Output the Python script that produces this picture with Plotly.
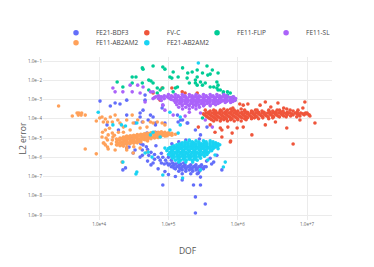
import plotly.graph_objects as go

series_names = ["FE21-BDF3", "FV-C", "FE11-FLIP", "FE11-SL", "FE11-AB2AM2", "FE21-AB2AM2"]
series_colors = ["#636efa", "#EF553B", "#00cc96", "#ab63fa", "#FFA15A", "#19d3f3"]
x_title = "DOF"
y_title = "L2 error"

# (DOF, L2 error) pairs
fe21_bdf3_points = [
    (7.1e4, 1.0e-6), (8.3e4, 1.0e-6), (1.0e5, 1.0e-6),
    (7.6e4, 7.1e-7), (9.1e4, 7.1e-7), (1.1e5, 7.1e-7),
    (7.9e4, 5.0e-7), (9.5e4, 5.0e-7), (1.15e5, 5.0e-7), (1.38e5, 5.0e-7), (1.66e5, 5.0e-7),
    (1.0e5, 4.0e-7), (1.2e5, 4.0e-7), (1.45e5, 4.0e-7), (1.74e5, 4.0e-7), (2.1e5, 4.0e-7), (2.5e5, 4.0e-7), (3.0e5, 4.0e-7),
    (1.1e5, 3.2e-7), (1.32e5, 3.2e-7), (1.58e5, 3.2e-7), (1.9e5, 3.2e-7), (2.3e5, 3.2e-7), (2.75e5, 3.2e-7), (3.3e5, 3.2e-7),
    (1.26e5, 2.5e-7), (1.5e5, 2.5e-7), (1.8e5, 2.5e-7), (2.2e5, 2.5e-7), (2.6e5, 2.5e-7), (3.2e5, 2.5e-7),
    (1.41e5, 1.9e-7), (1.78e5, 1.9e-7), (2.24e5, 1.9e-7), (2.8e5, 1.9e-7),
    (1.58e5, 1.4e-7), (2.1e5, 1.4e-7), (2.6e5, 1.4e-7),
    (1.15e5, 3.5e-7), (1.38e5, 3.5e-7), (1.66e5, 3.5e-7), (2.0e5, 3.5e-7), (2.4e5, 3.5e-7), (2.9e5, 3.5e-7),
    (1.2e5, 2.8e-7), (1.45e5, 2.8e-7), (1.74e5, 2.8e-7), (2.1e5, 2.8e-7), (2.5e5, 2.8e-7), (3.0e5, 2.8e-7),
    (8.7e4, 4.5e-7), (1.05e5, 4.5e-7), (1.26e5, 4.5e-7), (1.5e5, 4.5e-7),
    (1.58e5, 2.2e-7), (2.0e5, 2.2e-7), (2.5e5, 2.2e-7),
    (5.0e4, 2.5e-6), (5.6e4, 1.8e-6), (6.3e4, 1.4e-6), (5.2e4, 1.26e-6), (6.3e4, 7.9e-7),
    (4.2e4, 1.26e-6), (5.0e4, 6.3e-7), (5.6e4, 4.0e-7), (7.1e4, 2.5e-7), (8.9e4, 1.8e-7),
    (4.0e4, 5.0e-6), (4.8e4, 3.5e-6), (6.6e4, 4.0e-6), (7.9e4, 1.6e-6), (3.5e5, 3.2e-7),
    (4.2e5, 4.5e-7), (1.0e5, 1.26e-7), (1.26e5, 1.0e-7),
    (1.12e5, 5.0e-6), (1.41e5, 6.3e-6), (1.78e5, 7.9e-6), (2.8e5, 8.9e-6), (4.0e5, 3.2e-6),
    (3.55e5, 6.3e-7), (4.0e5, 8.9e-7), (5.0e5, 1.26e-6),
    (1.03e4, 8.3e-4), (1.3e4, 4.8e-5), (1.7e4, 6.6e-4), (1.45e4, 4.6e-4), (2.0e4, 5.9e-4),
    (2.5e4, 9.3e-4), (4.6e4, 1.7e-3), (1.9e4, 2.6e-5), (3.3e4, 6.0e-5), (3.9e4, 1.23e-4),
    (4.9e4, 1.8e-5), (6.5e4, 6.0e-5), (6.0e4, 1.23e-4), (3.3e4, 2.4e-6), (3.9e4, 1.02e-6),
    (2.5e4, 3.0e-6), (3.0e4, 1.12e-5), (4.3e4, 4.4e-6), (8.9e4, 6.0e-5), (1.38e5, 6.8e-5),
    (1.86e5, 6.0e-5), (2.45e5, 2.6e-5), (2.9e5, 1.45e-5), (2.7e4, 3.4e-6), (3.1e4, 1.66e-6),
    (2.2e4, 2.2e-7), (4.2e4, 2.4e-6), (6.0e4, 5.0e-7), (8.3e4, 3.6e-8), (1.58e5, 6.6e-8),
    (2.9e5, 3.6e-8), (2.3e5, 3.6e-8), (2.45e5, 8.7e-9), (3.4e5, 3.7e-9), (2.45e5, 1.26e-9),
    (2.9e5, 9.3e-8), (2.7e5, 1.5e-7), (4.5e5, 5.6e-7), (5.9e5, 2.2e-7), (3.6e5, 3.7e-5),
    (4.6e4, 9.3e-4), (4.3e4, 2.8e-4), (3.9e4, 2.0e-4), (5.5e4, 1.55e-4), (5.1e4, 8.7e-5),
    (6.5e4, 2.0e-5), (1.6e5, 8.7e-5), (8.3e4, 5.1e-4), (8.1e4, 3.6e-4), (1.35e5, 1.55e-4),
    (2.4e4, 2.8e-7), (2.5e4, 1.55e-4), (4.2e4, 6.8e-5), (6.5e4, 4.8e-5), (1.5e5, 8.7e-5),
    (1.9e5, 6.0e-5),
]

fv_c_points = [
    (6.3e5, 3.2e-4), (7.9e5, 3.2e-4), (1.12e6, 3.2e-4),
    (4.5e5, 2.8e-4), (5.6e5, 2.8e-4), (7.1e5, 2.8e-4), (8.9e5, 2.8e-4), (1.26e6, 2.8e-4), (1.8e6, 2.8e-4),
    (2.8e6, 2.8e-4), (4.0e6, 2.8e-4),
    (4.0e5, 2.5e-4), (4.8e5, 2.5e-4), (5.8e5, 2.5e-4), (6.9e5, 2.5e-4), (8.3e5, 2.5e-4), (1.0e6, 2.5e-4),
    (1.26e6, 2.5e-4), (1.58e6, 2.5e-4), (2.24e6, 2.5e-4), (3.2e6, 2.5e-4), (4.5e6, 2.5e-4), (6.3e6, 2.5e-4),
    (3.8e5, 2.2e-4), (4.6e5, 2.2e-4), (5.5e5, 2.2e-4), (6.6e5, 2.2e-4), (7.9e5, 2.2e-4), (9.5e5, 2.2e-4),
    (1.15e6, 2.2e-4), (1.38e6, 2.2e-4), (1.66e6, 2.2e-4), (2.0e6, 2.2e-4), (2.4e6, 2.2e-4), (2.9e6, 2.2e-4),
    (3.5e6, 2.2e-4), (4.2e6, 2.2e-4), (5.2e6, 2.2e-4), (7.2e6, 2.2e-4),
    (3.5e5, 2.0e-4), (4.3e5, 2.0e-4), (5.1e5, 2.0e-4), (6.2e5, 2.0e-4), (7.4e5, 2.0e-4), (8.9e5, 2.0e-4),
    (1.07e6, 2.0e-4), (1.29e6, 2.0e-4), (1.55e6, 2.0e-4), (1.86e6, 2.0e-4), (2.24e6, 2.0e-4), (2.7e6, 2.0e-4),
    (3.2e6, 2.0e-4), (3.9e6, 2.0e-4), (4.7e6, 2.0e-4), (5.6e6, 2.0e-4), (6.8e6, 2.0e-4), (8.1e6, 2.0e-4), (9.5e6, 2.0e-4),
    (3.2e5, 1.8e-4), (3.8e5, 1.8e-4), (4.6e5, 1.8e-4), (5.5e5, 1.8e-4), (6.6e5, 1.8e-4), (7.9e5, 1.8e-4),
    (9.5e5, 1.8e-4), (1.15e6, 1.8e-4), (1.38e6, 1.8e-4), (1.66e6, 1.8e-4), (2.0e6, 1.8e-4), (2.4e6, 1.8e-4),
    (2.9e6, 1.8e-4), (3.5e6, 1.8e-4), (4.2e6, 1.8e-4), (5.0e6, 1.8e-4), (6.0e6, 1.8e-4), (7.2e6, 1.8e-4),
    (8.7e6, 1.8e-4), (1.0e7, 1.8e-4),
    (3.3e5, 1.6e-4), (4.0e5, 1.6e-4), (4.8e5, 1.6e-4), (5.8e5, 1.6e-4), (6.9e5, 1.6e-4), (8.3e5, 1.6e-4),
    (1.0e6, 1.6e-4), (1.2e6, 1.6e-4), (1.45e6, 1.6e-4), (1.74e6, 1.6e-4), (2.1e6, 1.6e-4), (2.5e6, 1.6e-4),
    (3.0e6, 1.6e-4), (3.6e6, 1.6e-4), (4.4e6, 1.6e-4), (5.2e6, 1.6e-4), (6.3e6, 1.6e-4), (7.6e6, 1.6e-4),
    (9.1e6, 1.6e-4), (1.07e7, 1.6e-4),
    (3.5e5, 1.4e-4), (4.2e5, 1.4e-4), (5.0e5, 1.4e-4), (6.0e5, 1.4e-4), (7.2e5, 1.4e-4), (8.7e5, 1.4e-4),
    (1.05e6, 1.4e-4), (1.26e6, 1.4e-4), (1.5e6, 1.4e-4), (1.8e6, 1.4e-4), (2.2e6, 1.4e-4), (2.6e6, 1.4e-4),
    (3.2e6, 1.4e-4), (3.8e6, 1.4e-4), (4.6e6, 1.4e-4), (5.8e6, 1.4e-4), (7.9e6, 1.4e-4),
    (3.6e5, 1.26e-4), (4.4e5, 1.26e-4), (5.2e5, 1.26e-4), (6.3e5, 1.26e-4), (7.6e5, 1.26e-4), (9.1e5, 1.26e-4),
    (1.1e6, 1.26e-4), (1.32e6, 1.26e-4), (1.58e6, 1.26e-4), (1.9e6, 1.26e-4), (2.3e6, 1.26e-4), (2.75e6, 1.26e-4),
    (3.3e6, 1.26e-4), (4.0e6, 1.26e-4), (5.0e6, 1.26e-4), (7.1e6, 1.26e-4),
    (3.8e5, 1.12e-4), (4.6e5, 1.12e-4), (5.5e5, 1.12e-4), (6.6e5, 1.12e-4), (7.9e5, 1.12e-4), (9.5e5, 1.12e-4),
    (1.15e6, 1.12e-4), (1.38e6, 1.12e-4), (1.74e6, 1.12e-4), (2.3e6, 1.12e-4), (3.2e6, 1.12e-4),
    (4.0e5, 1.0e-4), (4.8e5, 1.0e-4), (5.8e5, 1.0e-4), (6.9e5, 1.0e-4), (8.3e5, 1.0e-4), (1.0e6, 1.0e-4),
    (1.26e6, 1.0e-4), (1.58e6, 1.0e-4), (2.0e6, 1.0e-4), (2.8e6, 1.0e-4),
    (4.2e5, 8.9e-5), (5.0e5, 8.9e-5), (6.3e5, 8.9e-5), (7.9e5, 8.9e-5), (1.0e6, 8.9e-5), (1.32e6, 8.9e-5),
    (4.5e5, 7.6e-5), (5.6e5, 7.6e-5), (7.1e5, 7.6e-5), (8.9e5, 7.6e-5), (1.12e6, 7.6e-5),
    (2.5e6, 7.4e-4), (3.8e6, 6.6e-4), (9.3e6, 7.4e-4), (8.7e6, 3.6e-4), (5.1e6, 3.2e-4),
    (5.7e6, 2.8e-4), (2.1e6, 5.1e-4), (1.9e6, 2.8e-4), (1.3e7, 6.0e-5), (5.1e6, 3.3e-5),
    (6.3e6, 4.9e-6), (1.6e6, 1.45e-5), (7.9e5, 6.9e-6), (8.3e5, 1.8e-5), (9.8e5, 3.3e-5),
    (1.2e6, 3.7e-5), (7.2e5, 3.7e-5), (5.6e5, 3.3e-5), (4.7e5, 2.0e-5), (5.9e5, 2.6e-5),
    (1.07e6, 5.9e-4), (1.2e6, 5.1e-4), (8.5e5, 3.6e-4), (3.0e6, 4.1e-4), (3.7e6, 2.8e-4),
    (4.6e6, 3.6e-4), (7.4e6, 2.8e-4), (1.0e7, 2.0e-4), (1.1e7, 1.4e-4),
    (1.58e5, 2.5e-3), (1.74e5, 2.2e-3), (7.6e4, 9.3e-4), (6.0e4, 2.2e-3), (8.1e4, 4.0e-3),
    (1.12e5, 4.0e-3), (2.6e5, 2.2e-3), (3.4e5, 2.8e-4), (2.7e5, 3.7e-5), (4.0e5, 4.8e-5),
    (7.8e5, 6.2e-6), (5.9e5, 1.12e-5), (1.4e6, 5.9e-4), (2.5e6, 4.8e-5), (3.5e6, 6.8e-5),
    (7.9e6, 8.7e-5),
]

fe11_flip_points = [
    (4.3e4, 3.8e-2), (6.0e4, 5.5e-2), (8.3e4, 4.9e-2), (8.9e4, 3.8e-2), (1.17e5, 2.7e-2),
    (1.12e5, 1.3e-2), (3.0e4, 1.48e-2), (3.4e4, 1.48e-2), (5.6e4, 9.1e-3), (6.0e4, 7.2e-3),
    (4.2e4, 7.2e-3), (3.0e4, 7.2e-3), (2.2e4, 4.5e-3), (1.82e4, 8.1e-3), (1.6e5, 4.4e-2),
    (1.9e5, 2.4e-2), (2.2e5, 2.7e-2), (2.6e5, 3.4e-2), (3.1e5, 2.4e-2), (3.7e5, 1.86e-2),
    (4.0e5, 2.1e-2), (5.2e5, 2.4e-2), (1.38e5, 1.48e-2), (1.86e5, 1.3e-2), (2.6e5, 1.48e-2),
    (2.0e5, 7.2e-3), (2.45e5, 7.2e-3), (2.9e5, 8.1e-3), (3.4e5, 7.2e-3), (5.0e5, 8.1e-3),
    (5.2e5, 5.6e-3), (4.0e5, 4.5e-3), (2.6e5, 5.6e-3), (5.0e5, 4.0e-3), (5.6e5, 3.1e-3),
    (6.2e5, 2.5e-3), (7.8e5, 2.2e-3), (7.1e5, 1.7e-3), (8.5e5, 1.35e-3), (9.1e5, 9.3e-4),
    (7.6e4, 3.1e-3), (6.9e4, 4.0e-3), (8.3e4, 4.0e-3), (1.26e5, 4.0e-3), (1.35e5, 4.5e-3),
    (4.2e4, 4.4e-2), (1.05e5, 1.48e-2), (5.2e4, 1.02e-2), (4.3e5, 3.4e-2), (2.45e5, 1.02e-2),
    (3.1e5, 5.6e-3), (7.1e5, 2.5e-3), (1.17e5, 2.5e-3), (5.2e4, 3.1e-3), (6.9e4, 2.2e-3),
    (4.5e5, 4.5e-3), (7.2e5, 1.35e-3), (3.6e5, 5.5e-2), (5.2e5, 3.1e-3), (6.2e5, 2.2e-3),
    (8.3e5, 1.2e-3), (3.1e5, 1.1e-4),
]

fe11_sl_points = [
    (1.0e5, 1.8e-3), (1.26e5, 1.8e-3), (1.58e5, 1.8e-3), (2.0e5, 1.8e-3), (2.5e5, 1.8e-3),
    (3.2e5, 1.8e-3), (4.0e5, 1.8e-3), (5.0e5, 1.8e-3), (6.3e5, 1.8e-3),
    (7.2e4, 1.58e-3), (8.7e4, 1.58e-3), (1.1e5, 1.58e-3), (1.38e5, 1.58e-3), (1.74e5, 1.58e-3),
    (2.2e5, 1.58e-3), (2.75e5, 1.58e-3), (3.5e5, 1.58e-3), (4.4e5, 1.58e-3), (5.5e5, 1.58e-3), (6.9e5, 1.58e-3),
    (6.6e4, 1.4e-3), (7.9e4, 1.4e-3), (9.5e4, 1.4e-3), (1.15e5, 1.4e-3), (1.38e5, 1.4e-3),
    (1.66e5, 1.4e-3), (2.0e5, 1.4e-3), (2.4e5, 1.4e-3), (2.9e5, 1.4e-3), (3.5e5, 1.4e-3),
    (4.2e5, 1.4e-3), (5.0e5, 1.4e-3), (6.0e5, 1.4e-3), (7.2e5, 1.4e-3), (8.7e5, 1.4e-3),
    (6.3e4, 1.26e-3), (7.9e4, 1.26e-3), (1.0e5, 1.26e-3), (1.26e5, 1.26e-3), (1.5e5, 1.26e-3),
    (1.8e5, 1.26e-3), (2.2e5, 1.26e-3), (2.6e5, 1.26e-3), (3.2e5, 1.26e-3), (3.8e5, 1.26e-3),
    (4.6e5, 1.26e-3), (5.5e5, 1.26e-3), (6.6e5, 1.26e-3), (7.9e5, 1.26e-3),
    (6.0e4, 1.12e-3), (7.2e4, 1.12e-3), (8.7e4, 1.12e-3), (1.05e5, 1.12e-3), (1.26e5, 1.12e-3),
    (1.5e5, 1.12e-3), (1.8e5, 1.12e-3), (2.2e5, 1.12e-3), (2.6e5, 1.12e-3), (3.2e5, 1.12e-3),
    (3.8e5, 1.12e-3), (4.6e5, 1.12e-3), (5.5e5, 1.12e-3), (6.6e5, 1.12e-3), (7.9e5, 1.12e-3),
    (9.3e5, 1.12e-3),
    (1.1e5, 1.0e-3), (1.32e5, 1.0e-3), (1.58e5, 1.0e-3), (1.9e5, 1.0e-3), (2.3e5, 1.0e-3),
    (2.75e5, 1.0e-3), (3.3e5, 1.0e-3), (4.0e5, 1.0e-3), (4.8e5, 1.0e-3), (5.8e5, 1.0e-3),
    (6.9e5, 1.0e-3), (8.3e5, 1.0e-3),
    (7.9e4, 8.9e-4), (1.2e5, 8.9e-4), (1.45e5, 8.9e-4), (1.74e5, 8.9e-4), (2.1e5, 8.9e-4),
    (2.5e5, 8.9e-4), (3.0e5, 8.9e-4), (3.6e5, 8.9e-4), (4.4e5, 8.9e-4), (5.2e5, 8.9e-4),
    (6.3e5, 8.9e-4), (7.6e5, 8.9e-4), (9.1e5, 8.9e-4),
    (1.32e5, 7.9e-4), (1.58e5, 7.9e-4), (1.9e5, 7.9e-4), (2.3e5, 7.9e-4), (2.75e5, 7.9e-4),
    (3.3e5, 7.9e-4), (4.0e5, 7.9e-4), (4.8e5, 7.9e-4), (5.8e5, 7.9e-4), (6.9e5, 7.9e-4), (8.5e5, 7.9e-4),
    (1.26e5, 7.1e-4), (1.5e5, 7.1e-4), (1.8e5, 7.1e-4), (2.2e5, 7.1e-4), (2.6e5, 7.1e-4),
    (3.2e5, 7.1e-4), (3.8e5, 7.1e-4), (4.6e5, 7.1e-4), (5.5e5, 7.1e-4), (6.6e5, 7.1e-4),
    (7.9e5, 7.1e-4),
    (1.45e5, 6.3e-4), (1.74e5, 6.3e-4), (2.1e5, 6.3e-4), (2.5e5, 6.3e-4), (3.0e5, 6.3e-4),
    (3.6e5, 6.3e-4), (4.4e5, 6.3e-4), (5.2e5, 6.3e-4),
    (1.32e5, 5.4e-4), (1.58e5, 5.4e-4), (1.9e5, 5.4e-4), (2.3e5, 5.4e-4), (2.75e5, 5.4e-4),
    (3.3e5, 5.4e-4), (4.0e5, 5.4e-4), (4.8e5, 5.4e-4),
    (1.58e5, 4.7e-4), (2.0e5, 4.7e-4), (2.5e5, 4.7e-4), (3.2e5, 4.7e-4), (4.0e5, 4.7e-4),
    (1.41e5, 4.0e-4), (1.78e5, 4.0e-4), (2.24e5, 4.0e-4), (2.8e5, 4.0e-4),
    (1.6e5, 3.2e-4), (2.0e5, 3.2e-4), (2.5e5, 3.2e-4),
    (2.2e4, 2.5e-3), (2.8e4, 5.6e-3), (3.0e4, 2.5e-3), (3.9e4, 2.2e-3), (4.6e4, 7.4e-4),
    (3.6e4, 5.6e-3), (5.5e4, 2.5e-3), (4.3e4, 4.5e-3), (6.0e4, 2.5e-3), (7.6e4, 1.35e-3),
    (8.3e4, 5.1e-4), (8.9e4, 2.8e-4), (1.17e5, 1.55e-4), (1.58e4, 4.0e-3), (1.7e4, 2.5e-3),
    (2.0e5, 2.2e-4), (2.9e5, 2.0e-4), (1.74e5, 1.38e-4), (3.4e5, 8.7e-5), (4.3e5, 3.7e-5),
]

fe11_ab2am2_points = [
    (2.6e3, 4.6e-4), (4.1e3, 1.4e-4), (4.8e3, 2.0e-4), (5.1e3, 2.0e-4), (5.6e3, 2.0e-4),
    (5.0e3, 1.55e-4), (5.5e3, 1.55e-4), (6.3e3, 1.55e-4), (9.1e3, 7.6e-5), (6.3e3, 2.7e-6),
    (9.1e3, 1.5e-6), (1.1e4, 1.23e-4), (1.23e4, 9.8e-5), (1.32e4, 6.8e-5), (1.45e4, 1.23e-4),
    (1.55e4, 6.8e-5), (1.7e4, 1.55e-4), (1.86e4, 8.7e-5), (1.23e4, 2.6e-5), (1.35e4, 1.45e-5),
    (1.55e4, 1.8e-5), (1.32e4, 7.9e-6), (1.17e4, 5.5e-6), (1.23e4, 4.4e-6), (1.55e4, 7.9e-6),
    (2.14e4, 5.6e-7), (2.0e4, 6.0e-5), (2.24e4, 3.7e-5), (2.8e4, 2.6e-5), (3.1e4, 6.0e-5),
    (2.5e4, 8.7e-5), (3.9e4, 3.3e-5), (4.9e4, 3.7e-5), (5.5e4, 6.8e-5), (2.5e4, 2.4e-6),
    (3.1e4, 1.66e-6), (3.9e4, 3.0e-6), (4.9e4, 1.86e-6), (3.0e4, 1.55e-4), (3.6e4, 8.7e-5),
    (4.3e4, 6.8e-5), (6.0e4, 6.0e-5), (6.9e4, 6.8e-5), (8.1e4, 6.0e-5), (8.9e4, 4.8e-5),
    (1.02e4, 1.1e-4), (1.15e4, 6.8e-5), (1.58e4, 1.12e-5), (1.1e4, 1.12e-5), (1.15e4, 5.5e-6),
    (1.32e4, 3.4e-6), (1.82e4, 4.4e-6), (1.35e4, 2.7e-6), (1.7e4, 2.4e-6), (1.86e4, 7.9e-6),
    (1.12e4, 2.0e-5), (1.41e4, 3.2e-5), (1.66e4, 1.4e-5), (1.26e4, 1.0e-5), (1.5e4, 5.0e-6),
    (1.9e4, 2.0e-5), (2.24e4, 2.0e-5), (2.5e4, 3.2e-6), (3.16e4, 3.5e-6),
    (1.78e4, 8.9e-6), (1.78e4, 6.3e-6), (1.78e4, 4.5e-6),
    (1.9e4, 8.3e-6), (1.9e4, 5.2e-6),
    (2.0e4, 1.0e-5), (2.0e4, 7.6e-6), (2.0e4, 5.6e-6), (2.0e4, 4.0e-6),
    (2.14e4, 9.5e-6), (2.14e4, 6.0e-6), (2.14e4, 4.3e-6),
    (2.24e4, 1.12e-5), (2.24e4, 8.9e-6), (2.24e4, 6.6e-6), (2.24e4, 5.0e-6), (2.24e4, 3.8e-6),
    (2.4e4, 1.12e-5), (2.4e4, 7.1e-6), (2.4e4, 5.0e-6),
    (2.5e4, 1.26e-5), (2.5e4, 1.0e-5), (2.5e4, 7.9e-6), (2.5e4, 6.0e-6), (2.5e4, 4.7e-6),
    (2.7e4, 1.17e-5), (2.7e4, 8.9e-6), (2.7e4, 5.6e-6),
    (2.8e4, 1.3e-5), (2.8e4, 1.05e-5), (2.8e4, 8.3e-6), (2.8e4, 6.3e-6), (2.8e4, 5.0e-6),
    (3.0e4, 1.26e-5), (3.0e4, 7.9e-6), (3.0e4, 6.0e-6),
    (3.16e4, 1.4e-5), (3.16e4, 1.12e-5), (3.16e4, 8.9e-6), (3.16e4, 7.1e-6), (3.16e4, 5.4e-6),
    (3.4e4, 1.3e-5), (3.4e4, 1.0e-5), (3.4e4, 6.3e-6),
    (3.55e4, 1.5e-5), (3.55e4, 1.17e-5), (3.55e4, 9.3e-6), (3.55e4, 7.4e-6), (3.55e4, 5.6e-6),
    (3.8e4, 1.4e-5), (3.8e4, 8.9e-6), (3.8e4, 6.8e-6),
    (4.0e4, 1.58e-5), (4.0e4, 1.26e-5), (4.0e4, 1.0e-5), (4.0e4, 7.9e-6), (4.0e4, 6.3e-6),
    (4.3e4, 1.5e-5), (4.3e4, 1.12e-5), (4.3e4, 8.9e-6),
    (4.5e4, 1.66e-5), (4.5e4, 1.3e-5), (4.5e4, 1.05e-5), (4.5e4, 8.3e-6),
    (4.8e4, 1.58e-5), (4.8e4, 1.0e-5), (4.8e4, 7.9e-6),
    (5.0e4, 1.78e-5), (5.0e4, 1.4e-5), (5.0e4, 1.12e-5), (5.0e4, 8.9e-6), (5.0e4, 7.1e-6),
    (5.4e4, 1.66e-5), (5.4e4, 1.26e-5), (5.4e4, 1.0e-5),
    (5.6e4, 1.86e-5), (5.6e4, 1.5e-5), (5.6e4, 1.17e-5), (5.6e4, 9.3e-6),
    (6.0e4, 1.78e-5), (6.0e4, 1.12e-5),
    (6.3e4, 2.0e-5), (6.3e4, 1.58e-5), (6.3e4, 1.26e-5), (6.3e4, 1.0e-5),
    (6.8e4, 1.78e-5), (6.8e4, 1.4e-5), (6.8e4, 1.12e-5),
    (7.1e4, 2.0e-5), (7.1e4, 1.58e-5), (7.1e4, 1.26e-5), (7.1e4, 1.05e-5),
    (7.6e4, 1.86e-5), (7.6e4, 1.5e-5), (7.6e4, 1.17e-5),
    (7.9e4, 2.1e-5), (7.9e4, 1.66e-5), (7.9e4, 1.3e-5),
    (8.5e4, 1.78e-5), (8.5e4, 1.4e-5),
    (8.9e4, 2.0e-5), (8.9e4, 1.58e-5), (8.9e4, 1.26e-5),
    (9.5e4, 1.66e-5), (9.5e4, 1.3e-5),
    (1.0e5, 1.86e-5), (1.0e5, 1.5e-5), (1.07e5, 1.58e-5), (1.12e5, 1.78e-5), (1.12e5, 1.4e-5), (1.26e5, 1.58e-5),
]

fe21_ab2am2_points = [
    (2.0e5, 7.1e-6), (2.5e5, 7.1e-6), (3.2e5, 7.1e-6), (4.0e5, 7.1e-6),
    (1.74e5, 6.3e-6), (2.2e5, 6.3e-6), (2.75e5, 6.3e-6), (3.5e5, 6.3e-6), (4.4e5, 6.3e-6),
    (1.58e5, 5.6e-6), (1.9e5, 5.6e-6), (2.3e5, 5.6e-6), (2.75e5, 5.6e-6), (3.3e5, 5.6e-6), (4.0e5, 5.6e-6), (4.8e5, 5.6e-6),
    (1.45e5, 5.0e-6), (1.74e5, 5.0e-6), (2.1e5, 5.0e-6), (2.5e5, 5.0e-6), (3.0e5, 5.0e-6), (3.6e5, 5.0e-6),
    (4.4e5, 5.0e-6), (5.2e5, 5.0e-6),
    (1.32e5, 4.5e-6), (1.58e5, 4.5e-6), (1.9e5, 4.5e-6), (2.3e5, 4.5e-6), (2.75e5, 4.5e-6), (3.3e5, 4.5e-6),
    (4.0e5, 4.5e-6), (4.8e5, 4.5e-6), (5.5e5, 4.5e-6),
    (1.2e5, 4.0e-6), (1.45e5, 4.0e-6), (1.74e5, 4.0e-6), (2.1e5, 4.0e-6), (2.5e5, 4.0e-6), (3.0e5, 4.0e-6),
    (3.6e5, 4.0e-6), (4.4e5, 4.0e-6), (5.2e5, 4.0e-6),
    (1.12e5, 3.5e-6), (1.35e5, 3.5e-6), (1.62e5, 3.5e-6), (1.95e5, 3.5e-6), (2.35e5, 3.5e-6), (2.8e5, 3.5e-6),
    (3.4e5, 3.5e-6), (4.1e5, 3.5e-6), (4.9e5, 3.5e-6),
    (1.05e5, 3.2e-6), (1.26e5, 3.2e-6), (1.5e5, 3.2e-6), (1.8e5, 3.2e-6), (2.2e5, 3.2e-6), (2.6e5, 3.2e-6),
    (3.2e5, 3.2e-6), (3.8e5, 3.2e-6), (4.6e5, 3.2e-6),
    (1.0e5, 2.8e-6), (1.2e5, 2.8e-6), (1.45e5, 2.8e-6), (1.74e5, 2.8e-6), (2.1e5, 2.8e-6), (2.5e5, 2.8e-6),
    (3.0e5, 2.8e-6), (3.6e5, 2.8e-6), (4.4e5, 2.8e-6), (5.2e5, 2.8e-6),
    (1.1e5, 2.5e-6), (1.32e5, 2.5e-6), (1.58e5, 2.5e-6), (1.9e5, 2.5e-6), (2.3e5, 2.5e-6), (2.75e5, 2.5e-6),
    (3.3e5, 2.5e-6), (4.0e5, 2.5e-6),
    (9.5e4, 2.2e-6), (1.15e5, 2.2e-6), (1.38e5, 2.2e-6), (1.66e5, 2.2e-6), (2.0e5, 2.2e-6), (2.4e5, 2.2e-6),
    (2.9e5, 2.2e-6), (3.5e5, 2.2e-6), (4.2e5, 2.2e-6),
    (1.15e5, 2.0e-6), (1.38e5, 2.0e-6), (1.66e5, 2.0e-6), (2.0e5, 2.0e-6), (2.4e5, 2.0e-6), (2.9e5, 2.0e-6),
    (3.5e5, 2.0e-6),
    (1.05e5, 1.8e-6), (1.26e5, 1.8e-6), (1.5e5, 1.8e-6), (1.8e5, 1.8e-6), (2.2e5, 1.8e-6), (2.6e5, 1.8e-6),
    (3.2e5, 1.8e-6), (3.8e5, 1.8e-6),
    (1.1e5, 1.58e-6), (1.32e5, 1.58e-6), (1.58e5, 1.58e-6), (1.9e5, 1.58e-6), (2.3e5, 1.58e-6), (2.75e5, 1.58e-6),
    (3.3e5, 1.58e-6),
    (1.0e5, 1.4e-6), (1.2e5, 1.4e-6), (1.45e5, 1.4e-6), (1.74e5, 1.4e-6), (2.1e5, 1.4e-6), (2.5e5, 1.4e-6),
    (3.0e5, 1.4e-6), (3.6e5, 1.4e-6),
    (1.15e5, 1.26e-6), (1.38e5, 1.26e-6), (1.66e5, 1.26e-6), (2.0e5, 1.26e-6), (2.4e5, 1.26e-6), (2.9e5, 1.26e-6),
    (1.1e5, 1.12e-6), (1.32e5, 1.12e-6), (1.58e5, 1.12e-6), (1.9e5, 1.12e-6), (2.3e5, 1.12e-6), (2.75e5, 1.12e-6),
    (3.3e5, 1.12e-6),
    (1.2e5, 1.0e-6), (1.45e5, 1.0e-6), (1.74e5, 1.0e-6), (2.1e5, 1.0e-6), (2.5e5, 1.0e-6),
    (1.15e5, 8.9e-7), (1.38e5, 8.9e-7), (1.66e5, 8.9e-7), (2.0e5, 8.9e-7), (2.4e5, 8.9e-7), (2.9e5, 8.9e-7),
    (1.38e5, 7.9e-7), (1.66e5, 7.9e-7), (2.0e5, 7.9e-7), (2.4e5, 7.9e-7),
    (1.26e5, 7.1e-7), (1.5e5, 7.1e-7), (1.8e5, 7.1e-7), (2.2e5, 7.1e-7), (2.6e5, 7.1e-7),
    (1.41e5, 5.6e-7), (1.78e5, 5.6e-7), (2.24e5, 5.6e-7),
    (2.4e4, 4.2e-5), (3.5e4, 6.0e-5), (5.5e4, 1.45e-5), (6.0e4, 2.0e-5), (1.05e5, 2.6e-5),
    (1.38e5, 1.8e-5), (1.48e5, 4.8e-5), (4.6e4, 1.66e-6), (5.1e4, 1.86e-6), (3.5e4, 1.7e-7),
    (3.4e4, 1.35e-7), (8.3e4, 1.2e-7), (1.6e5, 8.3e-8), (6.6e5, 5.6e-7), (6.2e5, 3.1e-7),
    (7.6e4, 1.12e-5), (9.7e3, 2.2e-4), (1.58e4, 4.8e-5), (2.1e4, 4.8e-5), (2.2e4, 5.6e-7),
    (5.8e4, 1.02e-6), (2.7e5, 7.9e-2), (2.9e5, 2.2e-7), (1.05e5, 2.2e-4), (1.48e5, 1.23e-4),
    (8.9e4, 3.0e-6), (2.0e5, 7.9e-6), (4.7e5, 1.3e-6), (3.7e5, 7.2e-7),
]

all_points = [fe21_bdf3_points, fv_c_points, fe11_flip_points,
              fe11_sl_points, fe11_ab2am2_points, fe21_ab2am2_points]

# one single-entry legend per series so each entry sits where the reference shows it
legend_ids = ["legend", "legend2", "legend3", "legend4", "legend5", "legend6"]
legend_x = [0.045, 0.290, 0.533, 0.772, 0.045, 0.290]
legend_y = [1.149, 1.149, 1.149, 1.149, 1.088, 1.088]

text_color = "#444444"
grid_color = "#ebebeb"
font_family = "Open Sans, Liberation Sans, sans-serif"

fig = go.Figure()
for name, color, pts in zip(series_names, series_colors, all_points):
    fig.add_trace(go.Scatter(
        x=[p[0] for p in pts],
        y=[p[1] for p in pts],
        mode="markers",
        name=name,
        legendgroup=name,
        showlegend=False,
        marker=dict(color=color, size=3.6, line=dict(width=0)),
    ))
# legend entries (no data, larger swatch like the reference)
for name, color, lg in zip(series_names, series_colors, legend_ids):
    fig.add_trace(go.Scatter(
        x=[None], y=[None],
        mode="markers",
        name=name,
        legendgroup=name,
        legend=lg,
        showlegend=True,
        marker=dict(color=color, size=5.5),
    ))

legend_layouts = {}
for lg, lx, ly in zip(legend_ids, legend_x, legend_y):
    legend_layouts[lg] = dict(
        x=lx, y=ly,
        xanchor="left", yanchor="middle",
        orientation="h",
        font=dict(size=6.5, color=text_color, family=font_family),
        bgcolor="rgba(0,0,0,0)",
        borderwidth=0,
    )

fig.update_layout(
    width=374,
    height=267,
    template="plotly_white",
    paper_bgcolor="white",
    plot_bgcolor="white",
    margin=dict(l=43, r=42, t=57, b=47, pad=0),
    font=dict(family=font_family, color=text_color),
    showlegend=True,
    xaxis=dict(
        type="log",
        range=[3.19, 7.36],
        dtick=1,
        tickformat=".1e",
        showgrid=True,
        gridcolor=grid_color,
        gridwidth=1,
        zeroline=False,
        showline=False,
        ticks="",
        tickfont=dict(size=4.5, color="#666666"),
        title=dict(text=x_title, font=dict(size=8.5, color="#555555"), standoff=22),
    ),
    yaxis=dict(
        type="log",
        range=[-9.26, -0.79],
        dtick=1,
        tickformat=".1e",
        showgrid=True,
        gridcolor=grid_color,
        gridwidth=1,
        zeroline=False,
        showline=False,
        ticks="",
        tickfont=dict(size=4.5, color="#666666"),
        title=dict(text=y_title, font=dict(size=8.5, color="#555555"), standoff=0),
    ),
    **legend_layouts,
)

fig.write_html(
    "out.html",
    config={"displayModeBar": False},
    post_script="document.body.style.margin='0px';document.body.style.overflow='hidden';",
)
